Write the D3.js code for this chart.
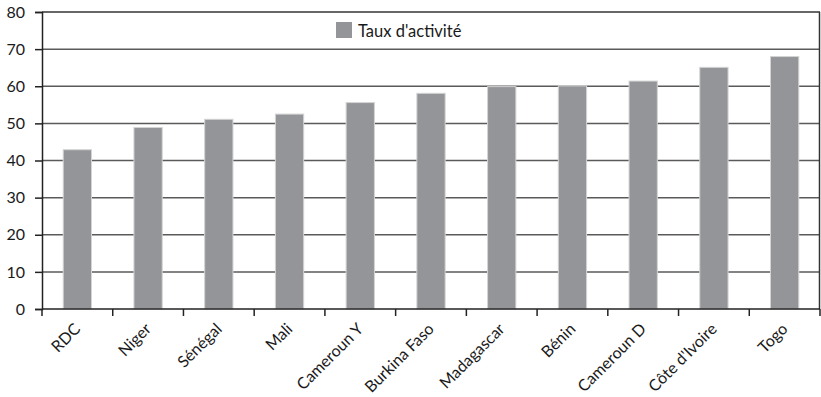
<!DOCTYPE html>
<html><head><meta charset="utf-8">
<script src="https://cdn.jsdelivr.net/npm/d3@7"></script>
<style>body{margin:0;background:#fff}svg{display:block}</style>
</head><body>
<svg id="c" width="821" height="397"></svg>
<script>
const categories = ["RDC","Niger","Sénégal","Mali","Cameroun Y","Burkina Faso","Madagascar","Bénin","Cameroun D","Côte d'Ivoire","Togo"];
const values = [42.9, 48.9, 51.1, 52.5, 55.6, 58.1, 59.9, 60.1, 61.4, 65.1, 68.0];
const yTicks = [0,10,20,30,40,50,60,70,80];
const seriesName = "Taux d'activité";

const svg = d3.select("#c");
const m = {l:42, r:820, t:12, b:309};
const font = "Lato, 'Open Sans', sans-serif";
const x = d3.scaleBand().domain(categories).range([m.l, m.r]).paddingInner(0.6).paddingOuter(0.3);
const y = d3.scaleLinear().domain([0,80]).range([m.b, m.t]);

// gridlines
svg.append("g").selectAll("line").data(yTicks.filter(d=>d>0)).join("line")
  .attr("x1", m.l).attr("x2", m.r).attr("y1", d=>y(d)).attr("y2", d=>y(d))
  .attr("stroke", d=>d===80?"#333":"#5a5a5a").attr("stroke-width", 1.5);
// right border
svg.append("line").attr("x1", m.r-0.5).attr("x2", m.r-0.5).attr("y1", m.t).attr("y2", m.b)
  .attr("stroke","#333").attr("stroke-width",1.5);

// bars
svg.append("g").selectAll("rect").data(values).join("rect")
  .attr("x", (d,i)=>x(categories[i])).attr("width", x.bandwidth())
  .attr("y", d=>y(d)).attr("height", d=>y(0)-y(d))
  .attr("fill","#939598").attr("stroke","#d4d4d4").attr("stroke-width",1);

// y axis
const ya = svg.append("g").attr("transform",`translate(${m.l},0)`)
  .call(d3.axisLeft(y).tickValues(yTicks).tickSize(7).tickPadding(10));
ya.select(".domain").attr("stroke","#222").attr("stroke-width",1.5);
ya.selectAll(".tick line").attr("stroke","#222").attr("stroke-width",1.5);
ya.selectAll("text").attr("font-family",font).attr("font-size",16).attr("fill","#1a1a1a");

// x axis with ticks at band boundaries
const xa = svg.append("g").attr("transform",`translate(0,${m.b})`);
xa.append("line").attr("x1",m.l).attr("x2",m.r).attr("stroke","#222").attr("stroke-width",1.5);
const bounds = d3.range(categories.length+1).map(i=>m.l + i*(m.r-m.l)/categories.length);
xa.selectAll("line.tk").data(bounds).join("line").attr("class","tk")
  .attr("x1",d=>d).attr("x2",d=>d).attr("y1",0).attr("y2",7)
  .attr("stroke","#222").attr("stroke-width",1.5);
xa.selectAll("text").data(categories).join("text")
  .attr("transform", d=>`translate(${x(d)+x.bandwidth()/2+4},${21}) rotate(-45)`)
  .attr("text-anchor","end")
  .attr("font-family",font).attr("font-size",16).attr("fill","#1a1a1a")
  .text(d=>d);

// legend
const lg = svg.append("g").attr("transform","translate(336,22)");
lg.append("rect").attr("width",16).attr("height",16).attr("fill","#939598");
lg.append("text").attr("x",22).attr("y",14.5).attr("font-family",font).attr("font-size",16.5)
  .attr("fill","#1a1a1a").text(seriesName);
</script>
</body></html>
